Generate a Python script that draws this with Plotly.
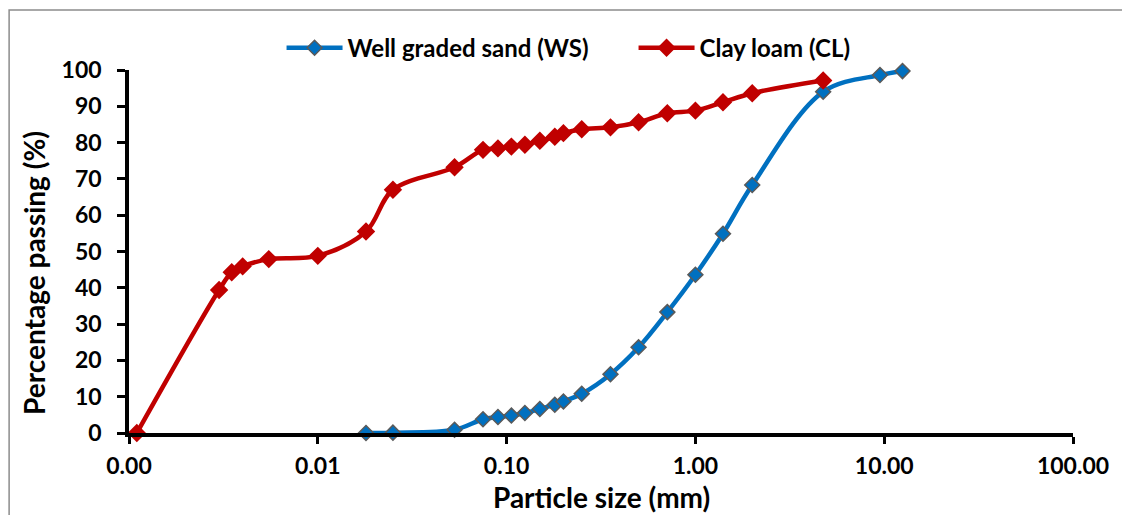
import plotly.graph_objects as go

# Sieve / hydrometer particle sizes (mm) and percentage passing
ws_size = [0.018, 0.025, 0.053, 0.075, 0.09, 0.106, 0.125, 0.15, 0.18, 0.2,
           0.25, 0.355, 0.5, 0.71, 1.0, 1.4, 2.0, 4.75, 9.5, 12.5]
ws_passing = [0.0, 0.1, 0.9, 3.8, 4.4, 4.8, 5.5, 6.6, 7.8, 8.7,
              10.8, 16.2, 23.6, 33.3, 43.6, 54.9, 68.3, 94.0, 98.6, 99.7]

cl_size = [0.0011, 0.003, 0.0035, 0.004, 0.0055, 0.01, 0.018, 0.025, 0.053,
           0.075, 0.09, 0.106, 0.125, 0.15, 0.18, 0.2, 0.25, 0.355, 0.5,
           0.71, 1.0, 1.4, 2.0, 4.75]
cl_passing = [0.0, 39.4, 44.3, 45.9, 47.9, 48.8, 55.5, 67.0, 73.2,
              78.0, 78.4, 78.9, 79.4, 80.5, 81.6, 82.6, 83.7, 84.2, 85.6,
              88.1, 88.8, 91.1, 93.6, 97.1]

x_tick_vals = [0.001, 0.01, 0.1, 1, 10, 100]
x_tick_text = ["0.00", "0.01", "0.10", "1.00", "10.00", "100.00"]
y_tick_vals = list(range(0, 101, 10))

FONT = "Lato, Liberation Sans, Arial, sans-serif"
BLUE = "#0070C0"
RED = "#C00000"

fig = go.Figure()

fig.add_trace(go.Scatter(
    x=ws_size, y=ws_passing, name="Well graded sand (WS)",
    mode="lines+markers", cliponaxis=False,
    line=dict(color=BLUE, width=4.5, shape="spline", smoothing=1),
    marker=dict(symbol="diamond", size=11.5, color=BLUE,
                line=dict(color="#5A5A5A", width=1.5)),
))

fig.add_trace(go.Scatter(
    x=cl_size, y=cl_passing, name="Clay loam (CL)",
    mode="lines+markers", cliponaxis=False,
    line=dict(color=RED, width=4.5, shape="spline", smoothing=1),
    marker=dict(symbol="diamond", size=12, color=RED,
                line=dict(color=RED, width=2)),
))

fig.update_layout(
    width=1122, height=515,
    margin=dict(l=129, r=49, t=70, b=82),
    paper_bgcolor="white", plot_bgcolor="white",
    font=dict(family=FONT, size=23, color="black", weight="bold"),
    showlegend=True,
    legend=dict(orientation="h", x=0.1616, xanchor="left", y=1.06, yanchor="middle",
                font=dict(family=FONT, size=24, color="black", weight="bold"),
                itemwidth=56, entrywidth=281, entrywidthmode="pixels",
                bgcolor="rgba(0,0,0,0)", traceorder="normal"),
    xaxis=dict(
        type="log", range=[-3, 2],
        tickvals=x_tick_vals, ticktext=x_tick_text,
        ticks="outside", ticklen=7, tickwidth=2.5, tickcolor="black",
        ticklabelstandoff=3,
        showline=True, linecolor="black", linewidth=3.5,
        showgrid=False, zeroline=False,
        tickfont=dict(family=FONT, size=23, color="black", weight="bold"),
    ),
    yaxis=dict(
        range=[0, 100], tickvals=y_tick_vals,
        ticks="outside", ticklen=8, tickwidth=2.5, tickcolor="black",
        ticklabelstandoff=11,
        showline=True, linecolor="black", linewidth=3.5,
        showgrid=False, zeroline=False,
        tickfont=dict(family=FONT, size=23, color="black", weight="bold"),
    ),
    annotations=[
        dict(text="Particle size (mm)", xref="paper", yref="paper",
             x=0.5, y=-0.176, xanchor="center", yanchor="middle", showarrow=False,
             font=dict(family=FONT, size=28, color="black", weight="bold")),
        dict(text="Percentage passing (%)", xref="paper", yref="paper",
             x=-0.1, y=0.44, xanchor="center", yanchor="middle", showarrow=False,
             textangle=-90,
             font=dict(family=FONT, size=28, color="black", weight="bold")),
    ],
    shapes=[
        dict(type="rect", xref="paper", yref="paper",
             x0=-0.127, x1=1.2, y0=-0.5, y1=1.165,
             line=dict(color="#8C8C8C", width=1.5), fillcolor="rgba(0,0,0,0)",
             layer="below"),
    ],
)

fig.write_html("out.html")
